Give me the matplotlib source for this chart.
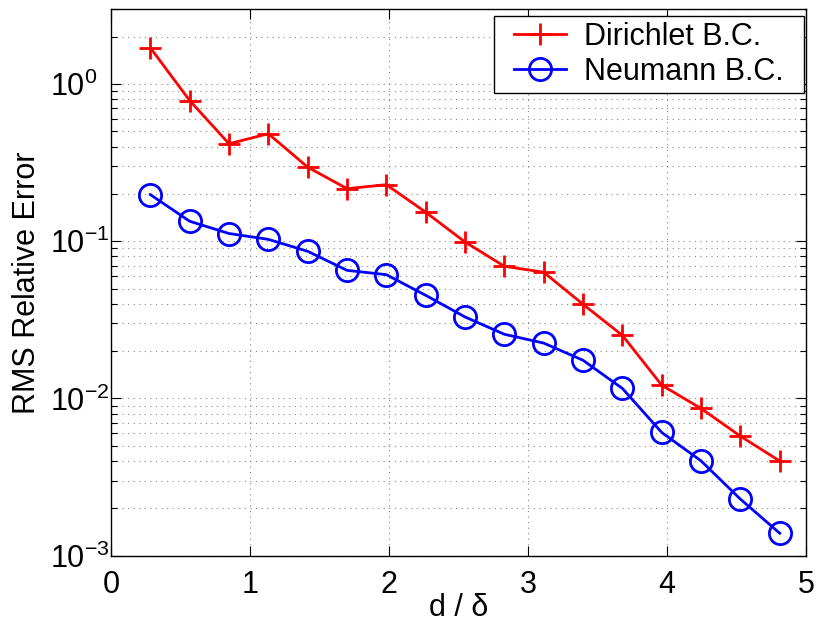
import matplotlib
matplotlib.use("Agg")
import matplotlib.pyplot as plt
from matplotlib.ticker import LogLocator, FixedLocator
from matplotlib.path import Path

plt.rcParams['font.family'] = ['Liberation Sans', 'DejaVu Sans']
plt.rcParams['mathtext.fontset'] = 'custom'
plt.rcParams['mathtext.rm'] = 'Liberation Sans'
plt.rcParams['mathtext.it'] = 'Liberation Sans:italic'

x = [0.283, 0.566, 0.849, 1.132, 1.415, 1.698, 1.981, 2.264, 2.547,
     2.830, 3.113, 3.396, 3.679, 3.962, 4.245, 4.528, 4.811]
dirichlet = [1.70, 0.785, 0.417, 0.483, 0.296, 0.216, 0.229, 0.153, 0.0989,
             0.0693, 0.0635, 0.0397, 0.0252, 0.01215, 0.00864, 0.00576, 0.0040]
neumann = [0.198, 0.134, 0.112, 0.1028, 0.0863, 0.0653, 0.0613, 0.0453, 0.0330,
           0.0256, 0.0225, 0.0175, 0.01158, 0.00608, 0.00401, 0.00229, 0.00139]
labels = ['Dirichlet B.C.', 'Neumann B.C.']
xticks = [0, 1, 2, 3, 4, 5]
yticks = [1e-3, 1e-2, 1e-1, 1e0]
yticklabels = [r'$10^{-3}$', r'$10^{-2}$', r'$10^{-1}$', r'$10^{0}$']

FS = 22

fig = plt.figure(figsize=(8.17, 6.24), dpi=100)
ax = fig.add_axes([111/817, 1-555.7/624, (806-111)/817, (555.7-9)/624])

ax.plot(x, dirichlet, color='red', marker='+', markersize=16, mew=2.0, lw=2.0,
        label=labels[0])
ax.plot(x, neumann, color='blue', marker='o', markersize=16, mew=2.0, lw=2.0,
        mfc='none', label=labels[1])

ax.set_yscale('log')
ax.set_xlim(0, 5)
ax.set_ylim(1e-3, 3)
ax.xaxis.set_major_locator(FixedLocator(xticks))
ax.set_yticks(yticks)
ax.set_yticklabels(yticklabels)
ax.yaxis.set_minor_locator(LogLocator(base=10, subs=range(2, 10), numticks=20))

ax.grid(True, which='major', axis='x', linestyle=(0, (1, 4)), color='#888888', lw=0.8)
ax.grid(True, which='both', axis='y', linestyle=(0, (1, 4)), color='#888888', lw=0.8)

ax.tick_params(which='both', direction='in', top=True, right=True, labelsize=FS,
               width=0.8, colors='black')
ax.tick_params(which='major', length=7)
ax.tick_params(which='minor', length=4)
ax.tick_params(axis='x', pad=10)
ax.tick_params(axis='y', pad=44)
for t in ax.get_yticklabels():
    t.set_horizontalalignment('left')
for s in ax.spines.values():
    s.set_linewidth(1.0)

ax.set_xlabel('d / δ', fontsize=FS, labelpad=-5)
ax.set_ylabel('RMS Relative Error', fontsize=FS, labelpad=6)


def wide_box(x0, y0, width, height, mutation_size):
    dx = 0.45 * mutation_size
    return Path([(x0 - dx, y0), (x0 + width + dx, y0), (x0 + width + dx, y0 + height),
                 (x0 - dx, y0 + height), (x0 - dx, y0)], closed=True)


leg = ax.legend(loc='upper right', bbox_to_anchor=(0.977, 0.9872), fontsize=FS,
                fancybox=False, framealpha=1, edgecolor='black', borderaxespad=0,
                handlelength=1.7, borderpad=0.2, labelspacing=0.15,
                handletextpad=0.6)
leg.get_frame().set_linewidth(1.0)
leg.get_frame().set_boxstyle(wide_box)

fig.savefig('out.png', dpi=100)
